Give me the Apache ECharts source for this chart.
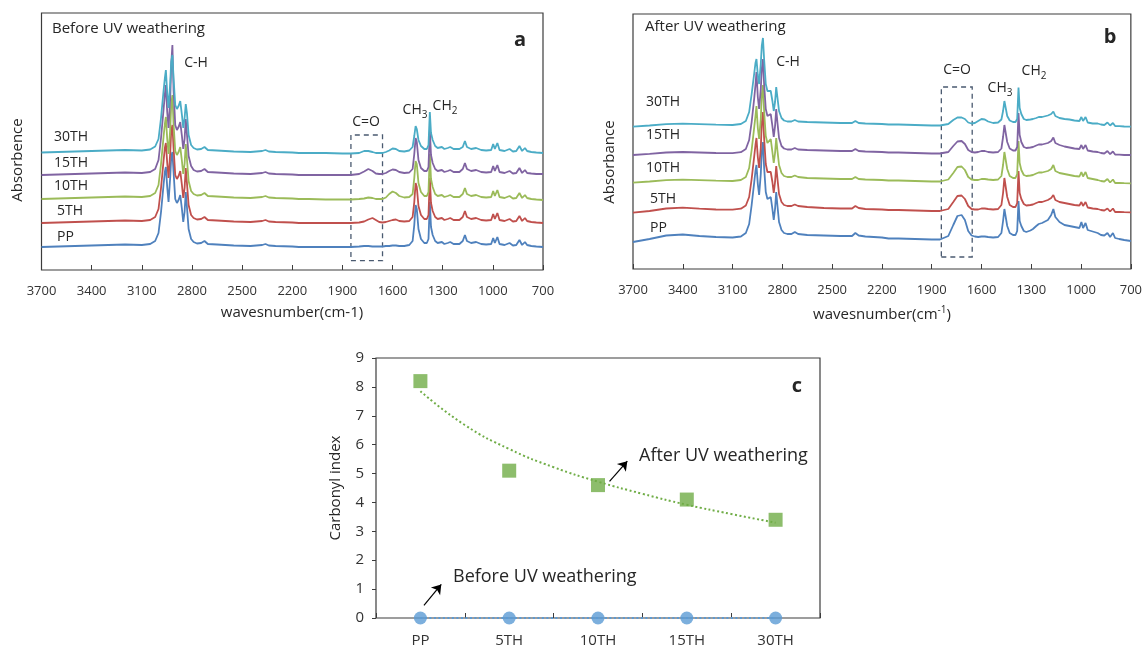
<!DOCTYPE html>
<html><head><meta charset="utf-8">
<script src="https://cdn.jsdelivr.net/npm/echarts@6/dist/echarts.min.js"></script>
<style>html,body{margin:0;padding:0;background:#fff}#chart{width:1145px;height:648px}</style>
</head><body><div id="chart"></div>
<script>
// ---------- DATA ----------
const waves = [3700,3600,3500,3400,3300,3200,3100,3050,3020,3000,
  2985,2970,2962,2956,2948,2940,2930,2924,2917,2910,
  2900,2890,2880,2870,2860,2852,2844,2837,2830,2820,
  2805,2790,2770,2745,2725,2705,2650,2550,2450,2380,
  2360,2340,2300,2200,2160,2150,2100,2000,1900,1850,
  1800,1770,1745,1720,1700,1680,1660,1640,1620,1600,
  1580,1560,1530,1500,1480,1470,1462,1455,1445,1430,
  1410,1395,1385,1377,1370,1360,1345,1330,1305,1290,
  1270,1255,1235,1200,1180,1167,1155,1130,1100,1070,
  1040,1010,998,988,980,973,960,930,900,880,
  860,841,825,808,795,770,740,700];
const sampleNames = ['PP','5TH','10TH','15TH','30TH'];

// Panel a: before UV weathering (stacked absorbance, arbitrary units)
const beforePP = [23,23.5,24,24.5,25,25.5,25,26,29,37,
  58,85,98,103,83,68,93,113,118,98,
  71,67,70,75,61,48,58,78,63,41,
  31,28,26.5,27,29,26,25.5,24.5,24,25,
  26,24.5,24,23.5,23,22,23,23,23,23,
  23.5,24,24,23.5,23.5,23.5,23.5,24,24,24.5,
  24.5,24,24,25,29,45,65,61,41,31,
  27,27,31,68,43,35,29,27,28,26,
  27,28,26,26,29,35,29,27,28,26,
  25.5,26,32,27,28,33,26,25,27,24.5,
  25,30,25,28,25,24,23.5,23];
const before5TH = [47,47.5,48,48.5,49,49.5,49,50,53,61,
  82,109,122,127,107,92,117,139,145,122,
  95,91,94,99,85,72,82,102,87,65,
  55,52,50.5,51,53,50,49.5,48.5,48,49,
  50,48.5,48,47.5,47,46,47,47,47,47,
  47.5,48.5,50.5,52,50,48,47.5,48,49,50,
  50.5,49,48.5,49,53,68,87,83,64,55,
  51,51,55,92,67,59,53,51,52,50,
  51,52,50,50,53,59,53,51,52,50,
  49.5,50,56,51,52,57,50,49,51,48.5,
  49,54,49,52,49,48,47.5,47];
const before10TH = [71,71.5,72,72.5,73,73.5,73,74,77,85,
  106,133,146,153,131,116,141,165,175,146,
  119,115,118,123,109,96,106,126,111,89,
  79,76,74.5,75,77,74,73.5,72.5,72,73,
  74,72.5,72,71.5,71,70,71,70.5,70.5,70.5,
  71,71.5,72.5,72,71,71,71,72.5,76,78.5,
  77,74,72.5,73,76,92,109,106,87,78,
  74,74,78,116,91,83,76,74,75,73,
  74,75,73,73,76,82,76,74,75,73,
  72.5,73,79,74,75,80,73,72,74,71.5,
  72,77,72,75,72,71,70.5,70];
const before15TH = [95,95.5,96,96.5,97,97.5,97,98,101,110,
  132,160,176,185,158,142,172,205,225,180,
  145,140,143,148,134,121,131,151,136,114,
  104,100,98.5,99,101,98,97.5,96.5,96,97,
  98,96.5,96,95.5,95,94,95,95,95,95,
  96,98.5,101,99,96.5,96,96,97,99,100.5,
  100,98,97,97.5,101,116,132,128,110,102,
  99,99,103,140,115,107,101,99,100,98,
  99,100,98,98,101,107,101,99,100,98,
  97.5,98,104,99,100,105,98,97,99,96.5,
  97,102,97,100,97,96.5,96,96];
const before30TH = [117.5,118,118.5,119,119.5,120,119.5,120.5,123.5,131,
  152,179,192,200,177,162,187,208,215,192,
  165,161,164,169,155,142,152,166,157,135,
  125,122,120.5,121,123,120,119.5,118.5,118,119,
  120,118.5,118,117.5,117,116,117,117,116.5,116.5,
  117,119,119,118,117,117,117,118,119.5,121.5,
  121,119,118.5,119.5,123,134,144,141,130,124,
  121,121,125,158,137,130,124,122,123,121,
  122,123,121,121,123,129,123,121,122,120,
  119.5,120,126,121,122,127,120,119,121,118.5,
  119,124,119,122,119,118,117.5,117];

// Panel b: after UV weathering
const afterPP = [27,30,33.5,34.5,33,32,31.5,32.5,36,45,
  64,86,98,104,85,74,95,117,127,102,
  77,70,68,72,60,49,60,77,64,47,
  39,36,35,35,37,35,34,33.5,33,33,
  36,33.5,32.5,31.5,30.5,29.5,30.5,30,29.5,29.5,
  33,44,53,54,49,38,33.5,32.5,32,32.5,
  32.5,32,31.5,32,36,48,60,58,43,36,
  34,34,38,68,48,43,38,37,38.5,40,
  43,45,46,49,54,60,52,47,44,43,
  42,41,47,41,42,46,39,37.5,36,34,
  33.5,36,32,36,31,30,29,28];
const after5TH = [56.3,58,60.5,61.3,60.3,59.5,59.3,60.3,63.5,72,
  90,112,124,131,112,101,121,146,157,131,
  105,97,95,97,87,76,87,103,91,75,
  67,64,63,63,64.5,63,62,61,60.5,60.5,
  63,61,60,59.5,59,58,59,58.5,58,58,
  60,67,73,73.5,70,63,60,59.5,59.5,60.5,
  60.5,60,59.5,60,64,76,91,89,72,64,
  62,62,66,98,76,70,65,63.5,64,64.5,
  66,67,67,69,71,74,69,67,66,65,
  64,63.5,67,63,64,67,61.5,60.5,60,59,
  58.5,60.5,57.5,60.5,57,57,56.8,56.7];
const after10TH = [86.3,87.5,88.8,89.3,88.8,88.3,88,89,92,101,
  119,141,153,163,141,130,150,174,184,158,
  133,126,125,130,117,106,116,131,119,104,
  96,93,92,92,93.5,92,91,90.5,90,90,
  92,90,89.5,89,88.5,87.5,88.5,88,87.5,87.5,
  89.5,96,102,102.5,99,92,89.5,89,89,90,
  90,89.5,89,89.5,93,104,117,115,100,93,
  91,91,95,128,106,99,94,93,93.5,94,
  95.5,96.5,96.5,98,100,104,98,96,95,94,
  93,92.5,97,92.5,93,97,91,90,89,88,
  87.5,90,86.5,89.5,86,86,85.8,85.7];
const after15TH = [114,115.2,116.5,117,116.5,116,115.8,116.8,120,129,
  147,170,184,197,172,160,180,200,210,185,
  160,153,152,155,143,132,143,160,147,131,
  123,120.5,119.5,119.5,121,119.5,119,118.5,118,118,
  120,118,117.5,117,116.5,115.5,116.5,116,115.5,115.5,
  117,123,127.5,128,125,119,117,116.5,117,118,
  118,117,116.5,117,120.5,132,144,142,127,120.5,
  118.5,118.5,122,156,134,127,122,121,121.5,122,
  123.5,124.5,124.5,126,128,131.5,126,124,122.5,121.5,
  120.5,120,124,120,120.5,124,118.5,117.5,117,116,
  115.5,118,114.8,117.5,114.5,114.3,114,114];
const after30TH = [142.3,143.5,144.8,145.3,144.8,144.3,144,145,148,157,
  175,195,206,210,194,185,205,223,231,210,
  185,178,176,178,168,158,167,182,172,158,
  151,148.5,147.5,147.5,149,147.5,147,146.5,146,146,
  148,146,145.5,145,144.5,143.5,144.5,144,143.5,143.5,
  145,149,151.5,151.5,150,146.5,145.5,146,148,150,
  149.5,147.5,146,146.5,149.5,158,168,166,153,148.5,
  147,147,150,181.5,161,155,150,149,149.5,150,
  151,152,152,153.5,155,157.5,153,151,150,149.5,
  148.5,148,152,148,148.5,152,146.5,145.5,145.5,144.5,
  144,146.5,143.5,146,143,142.8,142.5,142.3];

// Panel c: carbonyl index
const carbonylCategories = ['PP','5TH','10TH','15TH','30TH'];
const carbonylAfter = [8.2, 5.1, 4.6, 4.1, 3.4];
const carbonylBefore = [0, 0, 0, 0, 0];
const trendPositions = [0, 0.5, 1, 1.5, 2, 2.5, 3, 3.5, 4];
const trendAfter = [7.85, 6.68, 5.85, 5.22, 4.72, 4.3, 3.92, 3.6, 3.3];
const trendBefore = [0, 0, 0, 0, 0, 0, 0, 0, 0];

// ---------- CHART ----------
const FONT = '"Open Sans", "Liberation Sans", sans-serif';
const TXT = '#262626';
const specColors = ['#4F81BD','#C0504D','#9BBB59','#8064A2','#4BACC6'];
const beforeSets = [beforePP, before5TH, before10TH, before15TH, before30TH];
const afterSets = [afterPP, after5TH, after10TH, after15TH, after30TH];
const pairs = arr => waves.map((w, i) => [w, arr[i]]);

const chart = echarts.init(document.getElementById('chart'));

const gridStyle = {show: true, borderColor: '#3c3c3c', borderWidth: 1.2, backgroundColor: 'transparent', containLabel: false};

function specX(gi) {
  return {type: 'value', gridIndex: gi, min: 700, max: 3700, interval: 300, inverse: true,
    axisLine: {show: false}, splitLine: {show: false},
    axisTick: {show: true, inside: true, length: 5, lineStyle: {color: '#3c3c3c', width: 1}},
    axisLabel: {fontFamily: FONT, fontSize: 13, color: '#333', margin: 15, showMinLabel: true, showMaxLabel: true,
      formatter: v => String(v)}};
}
function specY(gi, max) {
  return {type: 'value', gridIndex: gi, min: 0, max: max, show: false, splitLine: {show: false}};
}

const series = [];
function addSpectra(sets, gi, box) {
  sets.forEach((arr, k) => {
    const s = {type: 'line', name: sampleNames[k], xAxisIndex: gi, yAxisIndex: gi, data: pairs(arr),
      showSymbol: false, symbol: 'none', silent: true, lineStyle: {color: specColors[k], width: 1.8},
      itemStyle: {color: specColors[k]}, z: 2 + k};
    if (k === 0) {
      s.markArea = {silent: true, itemStyle: {color: 'rgba(0,0,0,0)', borderColor: '#4a5a70', borderWidth: 1.3, borderType: [5, 4]},
        data: [[{coord: [box[0], box[2]]}, {coord: [box[1], box[3]]}]]};
    }
    series.push(s);
  });
}
addSpectra(beforeSets, 0, [1849, 1660, 9.3, 135]);
addSpectra(afterSets, 1, [1842, 1656, 12, 182]);

// panel c
series.push({type: 'line', xAxisIndex: 3, yAxisIndex: 2, data: trendPositions.map((x, i) => [x, trendAfter[i]]),
  smooth: true, symbol: 'none', silent: true, lineStyle: {color: '#70AD47', type: [2, 2.5], width: 2}, z: 3});
series.push({type: 'line', xAxisIndex: 3, yAxisIndex: 2, data: trendPositions.map((x, i) => [x, trendBefore[i]]),
  symbol: 'none', silent: true, lineStyle: {color: '#5B9BD5', type: [2, 2.5], width: 2}, z: 3,
  markLine: {silent: true, symbol: ['none', 'arrow'], symbolSize: 9, label: {show: false},
    lineStyle: {color: '#000', type: 'solid', width: 1.2}, emphasis: {disabled: true},
    data: [[{coord: [2.13, 4.73]}, {coord: [2.33, 5.43]}], [{coord: [0.04, 0.44]}, {coord: [0.235, 1.16]}]]}});
series.push({type: 'scatter', name: 'After UV weathering', xAxisIndex: 2, yAxisIndex: 2, data: carbonylAfter,
  symbol: 'rect', symbolSize: 14, clip: false, itemStyle: {color: '#70AD47'}, z: 5});
series.push({type: 'scatter', name: 'Before UV weathering', xAxisIndex: 2, yAxisIndex: 2, data: carbonylBefore,
  symbol: 'circle', symbolSize: 13, clip: false, itemStyle: {color: '#5B9BD5'}, z: 5});

function t(x, y, text, o) {
  o = o || {};
  return {type: 'text', x: x, y: y, rotation: o.rot || 0, silent: true, z: 10,
    style: {text: text, x: 0, y: 0, fill: TXT, fontFamily: FONT, fontSize: o.size || 14,
      fontWeight: o.bold ? 'bold' : 'normal', align: o.align || 'left', verticalAlign: 'middle',
      rich: {s: {fontFamily: FONT, fontSize: 10, fill: TXT, padding: [10, 0, 0, 0]},
             p: {fontFamily: FONT, fontSize: 10, fill: TXT, padding: [0, 0, 9, 0]}}}};
}
const graphics = [
  t(52, 29, 'Before UV weathering', {size: 15}),
  t(520, 40, 'a', {size: 20, bold: true, align: 'center'}),
  t(54, 137, '30TH'), t(54, 163, '15TH'), t(54, 186, '10TH'), t(57, 211, '5TH'), t(57, 237, 'PP'),
  t(196, 63, 'C-H', {align: 'center'}),
  t(366, 122, 'C=O', {align: 'center'}),
  t(415, 110, 'CH{s|3}', {align: 'center'}),
  t(445, 106, 'CH{s|2}', {align: 'center'}),
  t(18, 160, 'Absorbence', {rot: Math.PI / 2, align: 'center', size: 15}),
  t(292, 313, 'wavesnumber(cm-1)', {align: 'center', size: 15}),

  t(645, 27, 'After UV weathering', {size: 15}),
  t(1110, 37, 'b', {size: 20, bold: true, align: 'center'}),
  t(646, 102, '30TH'), t(646, 135, '15TH'), t(646, 168, '10TH'), t(650, 199, '5TH'), t(650, 228, 'PP'),
  t(788, 62, 'C-H', {align: 'center'}),
  t(957, 70, 'C=O', {align: 'center'}),
  t(1000, 88, 'CH{s|3}', {align: 'center'}),
  t(1034, 71, 'CH{s|2}', {align: 'center'}),
  t(610, 162, 'Absorbance', {rot: Math.PI / 2, align: 'center', size: 15}),
  t(882, 315, 'wavesnumber(cm{p|-1})', {align: 'center', size: 15}),

  t(639, 456, 'After UV weathering', {size: 18}),
  t(453, 577, 'Before UV weathering', {size: 18}),
  t(797, 386, 'c', {size: 20, bold: true, align: 'center'}),
  t(336, 488, 'Carbonyl index', {rot: Math.PI / 2, align: 'center', size: 15})
];

chart.setOption({
  animation: false,
  backgroundColor: '#fff',
  grid: [
    Object.assign({left: 41.5, right: 602, top: 13, bottom: 378}, gridStyle),
    Object.assign({left: 633, right: 13, top: 14, bottom: 379}, gridStyle),
    Object.assign({left: 376, right: 325, top: 358, bottom: 30}, gridStyle)
  ],
  xAxis: [
    specX(0), specX(1),
    {type: 'category', gridIndex: 2, data: carbonylCategories, boundaryGap: true,
      axisLine: {show: false, onZero: false}, splitLine: {show: false},
      axisTick: {show: true, inside: true, length: 5, lineStyle: {color: '#3c3c3c'}},
      axisLabel: {fontFamily: FONT, fontSize: 15, color: '#333', margin: 15}},
    {type: 'value', gridIndex: 2, min: -0.5, max: 4.5, show: false, splitLine: {show: false}, axisLine: {onZero: false}}
  ],
  yAxis: [
    specY(0, 257), specY(1, 255),
    {type: 'value', gridIndex: 2, min: 0, max: 9, interval: 1,
      axisLine: {show: false, onZero: false}, splitLine: {show: false},
      axisTick: {show: true, inside: false, length: 4, lineStyle: {color: '#3c3c3c'}},
      axisLabel: {fontFamily: FONT, fontSize: 15, color: '#333', margin: 12}}
  ],
  series: series,
  graphic: graphics
});
</script></body></html>
